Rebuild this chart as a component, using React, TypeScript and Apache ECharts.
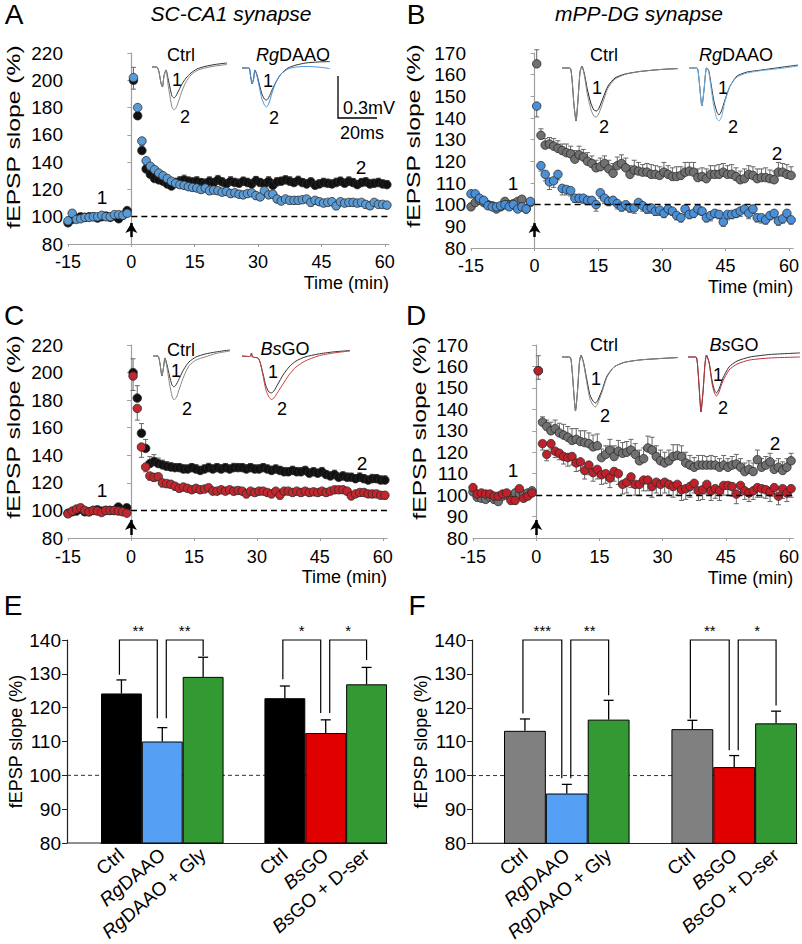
import React, { useEffect, useRef } from "react";
import * as echarts from "echarts";

const FONT = "'Liberation Sans', Arial, Helvetica, sans-serif";

// ---------- time axis (min) ----------
const TIME_BASE = [-15, -14, -13, -12, -11, -10, -9, -8, -7, -6, -5, -4, -3, -2, -1];
const TIME_POST = [0.5, 1.5, 2.5, 3.5, 4.5, 5.5, 6.5, 7.5, 8.5, 9.5, 10.5, 11.5, 12.5, 13.5, 14.5, 15.5, 16.5, 17.5, 18.5, 19.5,
  20.5, 21.5, 22.5, 23.5, 24.5, 25.5, 26.5, 27.5, 28.5, 29.5, 30.5, 31.5, 32.5, 33.5, 34.5, 35.5, 36.5, 37.5, 38.5, 39.5,
  40.5, 41.5, 42.5, 43.5, 44.5, 45.5, 46.5, 47.5, 48.5, 49.5, 50.5, 51.5, 52.5, 53.5, 54.5, 55.5, 56.5, 57.5, 58.5, 59.5, 60.5];
const TIME = [...TIME_BASE, ...TIME_POST];

// ---------- Panel A: SC-CA1, Ctrl vs RgDAAO ----------
const A_CTRL_BASE = [95.5, 98, 99, 100, 99.5, 100, 100, 99, 100, 100.5, 99.5, 100.5, 98.5, 101, 104.5];
const A_CTRL_POST = [200, 174, 148.5, 135, 131, 128, 127, 126, 124, 122.5, 125, 126, 127, 126, 125.5, 126, 125, 124.5, 126, 125,
  127, 125.5, 124, 126, 125, 124.5, 126, 125, 124, 126.5, 125, 124, 126, 123, 125.5, 126, 127, 126, 125, 126.5,
  125, 124, 125.5, 123, 124, 125, 124.5, 124, 125, 126, 124.5, 126, 125, 123.5, 125, 125.5, 124, 124.5, 125, 124, 123.5];
const A_CTRL_ERR_BASE = [1.2, 1, 1, 1.2, 1, 1, 1.1, 1, 1.2, 1, 1, 1.1, 1, 1.2, 1.5];
const A_CTRL_ERR_POST = [9.5, 5, 4.5, 3.5, 3, 3, 3.2, 3, 3, 3, 3.2, 3.5, 3.5, 3.2, 3, 3.4, 3, 3, 3.2, 3,
  3.3, 3, 3, 3.4, 3.2, 3, 3, 3.2, 3.3, 3, 3.1, 3, 3.4, 3, 3.2, 3, 3, 3.3, 3, 3.2,
  3, 3.4, 3, 3, 3.1, 3.2, 3, 3, 3.3, 3, 3, 3.2, 3, 3.1, 3, 3.2, 3.4, 3, 3.2, 3, 3];
const A_RG_BASE = [97, 102.5, 98, 98.5, 99.5, 99.5, 100, 100, 101, 100, 100, 101.5, 101.5, 101, 102.5];
const A_RG_POST = [202, 180, 155.5, 141, 137, 134.5, 132, 130, 128, 126, 124.5, 123.5, 123, 122, 121.5, 121, 120, 121, 119, 119.5,
  119, 118, 118.5, 117, 117.5, 116.5, 116, 117, 117.5, 115.5, 114.5, 119, 116, 116.5, 113, 111.5, 113, 112, 112, 112,
  112.5, 113, 110.5, 112, 111, 110, 110.5, 111, 108, 111, 110, 110.5, 110.5, 110, 110.5, 109, 108, 110.5, 109, 109, 108.5];
const A_RG_ERR_BASE = [1, 1.2, 1, 1, 1.1, 1, 1, 1.2, 1, 1, 1.1, 1, 1, 1.2, 1.3];
const A_RG_ERR_POST = [8.5, 4, 3.5, 3, 3, 2.8, 2.6, 2.5, 2.5, 2.6, 2.4, 2.5, 2.5, 2.6, 2.8, 2.5, 2.6, 2.4, 2.7, 2.5,
  2.6, 2.5, 2.8, 2.6, 2.5, 2.4, 2.6, 2.5, 2.7, 2.6, 2.5, 2.8, 2.6, 2.5, 2.6, 2.4, 2.5, 2.7, 2.5, 2.6,
  2.5, 2.4, 2.6, 2.5, 2.7, 2.5, 2.6, 2.4, 2.8, 2.5, 2.6, 2.5, 2.4, 2.6, 2.5, 2.7, 2.5, 2.6, 2.4, 2.5, 2.6];

// ---------- Panel B: mPP-DG, Ctrl vs RgDAAO ----------
const B_CTRL_BASE = [99, 101, 102, 101, 100, 99.5, 98, 99, 101.5, 100, 100.5, 101.5, 102.5, 98, 101];
const B_CTRL_POST = [165, 132, 127.5, 128, 127, 126, 125, 124, 123.5, 121, 123, 122, 120, 119, 117, 117.5, 119, 116.5, 114.5, 118,
  119, 117, 114, 116, 115.5, 115, 115, 114, 114, 113.5, 115, 114, 113, 113, 113.5, 115, 115.5, 115, 112.5, 113,
  112, 114, 114, 114, 115, 114, 114, 113, 111.5, 112, 114, 113.5, 112, 112.5, 112.5, 112, 111.5, 115, 115, 114, 113.5];
const B_CTRL_ERR_BASE = [1.5, 1.2, 1.5, 1.3, 1.2, 1.4, 1.5, 1.2, 1.3, 1.5, 1.2, 1.4, 1.3, 1.5, 1.4];
const B_CTRL_ERR_POST = [6.5, 3, 3, 3, 3.5, 3.5, 3, 4, 3.5, 4, 4, 3.5, 4, 3.5, 3.5, 4, 3.5, 4, 4.5, 4,
  4, 4.5, 4, 4.5, 4, 3.5, 4, 4.5, 4, 4, 4.5, 4, 4, 4.5, 4, 4.5, 4, 4.5, 4, 4,
  4.5, 4, 4, 4.5, 4, 4, 4.5, 4, 4, 4.5, 4, 4, 4.5, 4, 4.5, 4, 4, 4.5, 4, 4.5, 4];
const B_RG_BASE = [105, 105, 103, 102, 99.5, 99, 99, 99.5, 100, 99, 100, 98, 99, 98, 101.5];
const B_RG_POST = [145.5, 118, 114, 110.5, 111, 114, 107.5, 107, 106.5, 103, 103, 103, 102, 102, 100, 105.5, 103, 101.5, 102, 100.5,
  99, 100, 98.5, 98.5, 101, 99.5, 98, 98.5, 97, 97.5, 96, 98, 97, 95, 94, 98, 95.5, 96, 98, 97,
  94, 95, 96, 95.5, 92, 95.5, 95.5, 96, 97, 98, 96, 98, 94, 94, 93, 95, 96, 92.5, 93.5, 96, 93];
const B_RG_ERR_BASE = [1.2, 1.5, 1.3, 1.2, 1.2, 1, 1.2, 1.2, 1.3, 1.2, 1.1, 1.2, 1.3, 1.2, 1.2];
const B_RG_ERR_POST = [5, 2.5, 3, 3.5, 3, 2.5, 3, 2.5, 2.5, 2, 2, 2.5, 2, 2, 3, 2.5, 2.5, 2, 2, 2.5,
  2, 2.5, 2, 2.5, 2, 2.5, 2, 2.5, 2, 2.5, 2, 2.5, 2, 2, 2, 2.5, 2, 2, 2.5, 2,
  2, 2.5, 2, 2, 2, 2.5, 2, 2, 2.5, 2, 2.5, 2, 2, 2.5, 2, 2, 2.5, 2, 2, 2.5, 2];

// ---------- Panel C: SC-CA1, Ctrl vs BsGO ----------
const C_CTRL_BASE = [98, 99, 99.5, 101, 99, 99, 100, 100.5, 99.5, 100, 100, 100, 102.5, 100, 102];
const C_CTRL_POST = [200, 181.5, 156, 145, 134, 135.5, 134, 133, 132, 131.5, 131, 131, 130, 130, 131, 130, 129, 130, 131, 130,
  131, 130, 131, 130, 131, 131, 131, 130, 131, 130, 130, 131, 130, 129, 130, 129, 128, 128, 129, 128,
  128, 129, 127, 128, 127, 128, 126, 125, 126, 124, 125, 124, 124, 123, 124, 123, 122, 123, 123, 122, 122];
const C_CTRL_ERR_BASE = [1, 1.2, 1, 1, 1.1, 1, 1, 1.2, 1, 1, 1.1, 1, 1.2, 1, 1.2];
const C_CTRL_ERR_POST = [10, 9, 7, 6.5, 5, 5, 4, 3.5, 3.5, 3.2, 3, 3, 3.2, 3, 3, 3.2, 3, 3, 3.2, 3,
  3, 3.2, 3, 3, 3.2, 3, 3, 3.2, 3, 3, 3.2, 3, 3, 3.2, 3, 3, 3.2, 3, 3, 3.2,
  3, 3, 3.2, 3, 3, 3.2, 3, 3, 3.2, 3, 3, 3.2, 3, 3, 3.2, 3, 3, 3.2, 3, 3, 3];
const C_BS_BASE = [97.5, 99.5, 101, 102, 100, 99, 100, 99.5, 98.5, 100, 100, 100, 99.5, 99, 98];
const C_BS_POST = [197.5, 174, 146, 131.5, 125, 124, 124.5, 120, 119.5, 119, 117.5, 116, 117, 116, 115, 116, 115, 115.5, 116.5, 114,
  114, 115, 114, 115, 114, 114.5, 114, 112, 114, 113, 114, 114, 113, 112, 114, 111, 114, 114, 113, 114,
  113, 114, 113, 113.5, 113, 114, 113, 114, 115, 115, 115, 114, 110.5, 112, 113, 113, 112, 112, 112, 111, 111];
const C_BS_ERR_BASE = [1, 1, 1.2, 1, 1, 1.1, 1, 1, 1.2, 1, 1, 1.1, 1, 1, 1.2];
const C_BS_ERR_POST = [10.5, 8.5, 7.5, 3.5, 3, 3, 2.8, 3, 3, 2.8, 2.5, 2.5, 2.8, 2.5, 2.5, 2.8, 2.5, 2.5, 2.8, 2.5,
  2.5, 2.8, 2.5, 2.5, 2.8, 2.5, 2.5, 2.8, 2.5, 2.5, 2.8, 2.5, 2.5, 2.8, 2.5, 2.5, 2.8, 2.5, 2.5, 2.8,
  2.5, 2.5, 2.8, 2.5, 2.5, 2.8, 2.5, 2.5, 2.8, 2.5, 2.5, 2.8, 2.5, 2.5, 2.8, 2.5, 2.5, 2.8, 2.5, 2.5, 2.8];

// ---------- Panel D: mPP-DG, Ctrl vs BsGO ----------
const D_CTRL_BASE = [101.5, 99, 98.5, 98, 99, 98, 97, 99.5, 100, 99, 101, 100, 100.5, 101, 102];
const D_CTRL_POST = [158, 134, 132, 130, 131, 129, 128, 127, 125.5, 126, 125, 124.5, 124, 122.5, 123, 117.5, 119, 121, 118, 120.5,
  119.5, 120, 121, 119, 116, 117, 122, 121, 118, 116, 115, 116, 118, 118.5, 118, 115, 114, 113, 114, 114,
  114, 114, 114, 113, 114, 113, 114, 114.5, 113, 111, 112, 111, 116.5, 113, 114, 115.5, 112, 113, 111.5, 113, 116];
const D_CTRL_ERR_BASE = [1.2, 1, 1.2, 1, 1.2, 1, 1.1, 1.2, 1, 1.2, 1, 1.1, 1.2, 1, 1.2];
const D_CTRL_ERR_POST = [7, 2.5, 3, 4, 4, 4.5, 5, 5, 5.5, 5, 5, 5.5, 5, 5.5, 5.5, 4, 4, 5, 5, 5,
  5, 5, 5, 5, 5, 5, 5.5, 6, 5, 5, 5, 5, 5.5, 5, 5, 5, 4.5, 4.5, 4.5, 4.5,
  4, 4.5, 4, 4, 4.5, 4, 4, 4.5, 4, 4, 4, 4, 4.5, 4, 4, 4, 4, 4, 4, 4, 3.5];
const D_BS_BASE = [103.5, 100.5, 101, 100.5, 100.5, 99.5, 99.5, 100.5, 101, 97.5, 97.5, 103, 98.5, 99.5, 101];
const D_BS_POST = [158, 124, 119, 124, 120.5, 119.5, 118, 117.5, 118, 115, 115.5, 111.5, 114, 110.5, 112, 109.5, 110, 108, 111, 110,
  105, 106, 108.5, 105, 105, 107, 107, 104, 106, 105, 106, 105, 104, 105, 102.5, 103, 104, 105.5, 102, 102.5,
  105, 102, 103, 102, 104.5, 104.5, 104, 100.5, 104.5, 102, 101, 102, 103.5, 103, 102.5, 101.5, 103.5, 99.5, 103, 101, 103];
const D_BS_ERR_BASE = [1.5, 1.2, 1.2, 1.2, 1, 1.2, 1.2, 1, 1.2, 1.2, 1.5, 1.2, 1.2, 1.2, 1.2];
const D_BS_ERR_POST = [4, 3, 3, 2.5, 3, 3, 3.5, 4, 4, 4, 4, 4, 4.5, 4, 4.5, 4.5, 4.5, 4.5, 4.5, 5,
  4.5, 5, 5, 5, 5, 5, 5, 5, 5, 5, 5, 5, 5, 5, 5, 5, 5, 4.5, 4.5, 4.5,
  4.5, 4.5, 4.5, 4.5, 4.5, 4.5, 4.5, 4.5, 4.5, 4, 4, 4, 4.5, 4, 4, 4.5, 4, 4, 4.5, 4, 4];

// tetanus arrows (value range along y at t = 0)
const A_ARROW = [85.1, 95.4];
const B_ARROW = [85.1, 91.5];
const C_ARROW = [82.2, 93.1];
const D_ARROW = [81.4, 88.4];

// ---------- inset traces (t in ms, V in mV) ----------
const A_CTRL_TR_T = [0, 2.6, 3.7, 4.7, 5.5, 6.3, 7.4, 8.4, 9.5, 10.5, 11.6, 12.6, 14.2, 15.8, 17.9, 20.5, 23.7, 27.9, 33.2, 39.5];
const A_CTRL_TR1 = [0, 0, -0.036, -0.114, -0.143, -0.064, -0.021, -0.079, -0.15, -0.207, -0.221, -0.207, -0.164, -0.121, -0.079, -0.043, -0.014, 0.004, 0.018, 0.029];
const A_CTRL_TR2 = [0, 0, -0.036, -0.114, -0.143, -0.064, -0.021, -0.121, -0.214, -0.286, -0.307, -0.293, -0.236, -0.171, -0.107, -0.057, -0.025, -0.007, 0.007, 0.018];
const A_RG_TR_T = [0, 3.7, 4.5, 5.3, 6.1, 6.8, 7.9, 9.2, 10.5, 11.8, 12.9, 14.2, 15.8, 17.9, 20.5, 24.2, 28.4, 33.7, 40, 46.3];
const A_RG_TR1 = [0, 0, -0.057, -0.114, -0.079, -0.014, -0.05, -0.121, -0.186, -0.221, -0.229, -0.207, -0.157, -0.1, -0.043, 0, 0.021, 0.036, 0.043, 0.046];
const A_RG_TR2 = [0, 0, -0.057, -0.114, -0.079, -0.014, -0.057, -0.143, -0.221, -0.264, -0.279, -0.25, -0.179, -0.1, -0.043, -0.007, 0.007, 0.011, 0.007, -0.004];
const B_CTRL_TR_T = [0, 4.2, 5.3, 6.3, 7.4, 8.4, 9.5, 10.5, 11.8, 13.4, 15.3, 16.8, 18.2, 19.5, 21.6, 24.2, 27.9, 33.2, 41, 51.6, 61];
const B_CTRL_TR1 = [0, 0, -0.086, -0.264, -0.379, -0.229, -0.029, 0.014, -0.043, -0.157, -0.257, -0.3, -0.307, -0.286, -0.214, -0.129, -0.071, -0.043, -0.025, -0.011, -0.004];
const B_CTRL_TR2 = [0, 0, -0.086, -0.264, -0.379, -0.229, -0.029, 0.014, -0.057, -0.193, -0.3, -0.343, -0.35, -0.321, -0.243, -0.143, -0.079, -0.046, -0.025, -0.011, -0.004];
const B_RG_TR_T = [0, 4.2, 5.3, 6.3, 6.8, 7.9, 9.2, 10.3, 11.6, 13.2, 14.7, 15.8, 17.1, 18.9, 21.6, 25.3, 30.5, 38.4, 47.9, 57.4];
const B_RG_TR1 = [0, 0, -0.086, -0.229, -0.271, -0.157, 0, -0.014, -0.114, -0.243, -0.314, -0.336, -0.307, -0.229, -0.129, -0.057, -0.029, -0.014, 0.004, 0.021];
const B_RG_TR2 = [0, 0, -0.086, -0.229, -0.271, -0.157, 0, -0.021, -0.143, -0.286, -0.364, -0.379, -0.35, -0.243, -0.129, -0.064, -0.036, -0.018, -0.004, 0.014];
const C_CTRL_TR_T = [0, 2.6, 3.7, 4.7, 5.5, 6.3, 7.4, 8.7, 10, 11.1, 12.4, 14.2, 16.3, 18.9, 22.6, 27.4, 33.2, 40.5];
const C_CTRL_TR1 = [0, 0, -0.057, -0.143, -0.086, -0.014, -0.064, -0.143, -0.207, -0.221, -0.2, -0.15, -0.093, -0.043, -0.007, 0.014, 0.029, 0.043];
const C_CTRL_TR2 = [0, 0, -0.057, -0.143, -0.086, -0.014, -0.086, -0.2, -0.286, -0.314, -0.293, -0.221, -0.143, -0.071, -0.029, -0.007, 0.018, 0.036];
const C_BS_TR_T = [0, 4.2, 5, 5.5, 8.4, 9.5, 11.1, 12.6, 14.2, 15.5, 16.8, 18.9, 21.6, 24.7, 28.4, 33.2, 40, 47.9, 56.8];
const C_BS_TR1 = [0, -0.004, 0.021, -0.007, -0.014, -0.043, -0.129, -0.214, -0.257, -0.264, -0.25, -0.2, -0.136, -0.079, -0.036, -0.007, 0.014, 0.029, 0.039];
const C_BS_TR2 = [0, -0.004, 0.021, -0.007, -0.014, -0.043, -0.143, -0.243, -0.293, -0.311, -0.3, -0.257, -0.2, -0.136, -0.079, -0.036, 0, 0.021, 0.036];
const D_CTRL_TR_T = [0, 4.2, 5.3, 6.3, 7.1, 8.2, 9.2, 10, 11.3, 12.9, 14.7, 16.3, 17.6, 18.9, 21.1, 23.7, 27.4, 32.6, 41, 51.6, 61];
const D_CTRL_TR1 = [0, 0, -0.093, -0.271, -0.386, -0.236, -0.036, 0.014, -0.036, -0.15, -0.271, -0.314, -0.329, -0.307, -0.236, -0.136, -0.071, -0.039, -0.021, -0.011, -0.004];
const D_CTRL_TR2 = [0, 0, -0.093, -0.271, -0.386, -0.236, -0.036, 0.014, -0.043, -0.171, -0.3, -0.343, -0.357, -0.329, -0.25, -0.143, -0.071, -0.039, -0.021, -0.011, -0.004];
const D_BS_TR_T = [0, 4.2, 5.3, 6.3, 6.8, 7.9, 8.9, 9.7, 11.1, 12.6, 13.9, 15, 16.3, 18.4, 21.6, 25.8, 32.6, 43.2, 58.9];
const D_BS_TR1 = [0, 0, -0.107, -0.307, -0.393, -0.25, -0.057, 0.014, -0.036, -0.164, -0.236, -0.257, -0.229, -0.15, -0.071, -0.029, 0, 0.018, 0.029];
const D_BS_TR2 = [0, 0, -0.107, -0.307, -0.393, -0.25, -0.057, 0.014, -0.043, -0.186, -0.257, -0.279, -0.25, -0.171, -0.093, -0.05, -0.021, -0.007, 0];

// ---------- Panels E / F: bars ----------
const BAR_CATS = ["Ctrl", "RgDAAO", "RgDAAO + Gly", "", "Ctrl", "BsGO", "BsGO + D-ser"];
const E_VALUES = [124.2, 110.0, 129.1, null, 122.8, 112.5, 126.9];
const E_SEM = [4.0, 4.1, 5.8, null, 3.6, 3.9, 5.0];
const F_VALUES = [113.2, 94.7, 116.5, null, 113.7, 102.5, 115.4];
const F_SEM = [3.5, 2.7, 5.7, null, 2.6, 3.4, 3.6];
const E_COLORS = ["#000000", "#559ff5", "#339933", null, "#000000", "#e00000", "#339933"];
const F_COLORS = ["#808080", "#559ff5", "#339933", null, "#808080", "#e00000", "#339933"];
// brackets: [left bar, right bar, left foot value, right foot value]
const BRACKET_TOP = 140;
const E_BRACKETS = [[0, 1, 129.7, 116.9], [1, 2, 116.9, 135.3], [4, 5, 128.4, 118.4], [5, 6, 118.4, 134.1]];
const E_STARS = ["**", "**", "*", "*"];
const F_BRACKETS = [[0, 1, 118.3, 99.2], [1, 2, 99.2, 123.7], [4, 5, 116.8, 107.5], [5, 6, 107.5, 120.7]];
const F_STARS = ["***", "**", "**", "*"];

// ---------- layout ----------
const TIME_PANELS: any[] = [
  { grid: { left: 68, top: 53, width: 321, height: 191 }, yMin: 80, yMax: 220, yInt: 20, yName: [14, 137], labelMargin: 9, namePad: 30,
    ctrl: [...A_CTRL_BASE, ...A_CTRL_POST], ctrlErr: [...A_CTRL_ERR_BASE, ...A_CTRL_ERR_POST], ctrlColor: "#111111",
    trt: [...A_RG_BASE, ...A_RG_POST], trtErr: [...A_RG_ERR_BASE, ...A_RG_ERR_POST], trtColor: "#5b9bd5", arrow: A_ARROW },
  { grid: { left: 471, top: 53, width: 326, height: 195 }, yMin: 80, yMax: 170, yInt: 10, yName: [414, 136], labelMargin: 9, namePad: 30,
    ctrl: [...B_CTRL_BASE, ...B_CTRL_POST], ctrlErr: [...B_CTRL_ERR_BASE, ...B_CTRL_ERR_POST], ctrlColor: "#707070",
    trt: [...B_RG_BASE, ...B_RG_POST], trtErr: [...B_RG_ERR_BASE, ...B_RG_ERR_POST], trtColor: "#4a90d9", arrow: B_ARROW },
  { grid: { left: 68, top: 345, width: 319, height: 193 }, yMin: 80, yMax: 220, yInt: 20, yName: [14, 427], labelMargin: 10, namePad: 30,
    ctrl: [...C_CTRL_BASE, ...C_CTRL_POST], ctrlErr: [...C_CTRL_ERR_BASE, ...C_CTRL_ERR_POST], ctrlColor: "#111111",
    trt: [...C_BS_BASE, ...C_BS_POST], trtErr: [...C_BS_ERR_BASE, ...C_BS_ERR_POST], trtColor: "#c4262e", arrow: C_ARROW },
  { grid: { left: 473, top: 345, width: 324, height: 193 }, yMin: 80, yMax: 170, yInt: 10, yName: [420, 428], labelMargin: 10, namePad: 31,
    ctrl: [...D_CTRL_BASE, ...D_CTRL_POST], ctrlErr: [...D_CTRL_ERR_BASE, ...D_CTRL_ERR_POST], ctrlColor: "#707070",
    trt: [...D_BS_BASE, ...D_BS_POST], trtErr: [...D_BS_ERR_BASE, ...D_BS_ERR_POST], trtColor: "#c0202a", arrow: D_ARROW },
];

const BAR_PANELS: any[] = [
  { grid: { left: 101, top: 640, width: 286, height: 203 }, axisX: 67, values: E_VALUES, sem: E_SEM, colors: E_COLORS, brackets: E_BRACKETS, stars: E_STARS, nameGap: 37 },
  { grid: { left: 504, top: 640, width: 293, height: 204 }, axisX: 472, values: F_VALUES, sem: F_SEM, colors: F_COLORS, brackets: F_BRACKETS, stars: F_STARS, nameGap: 36 },
];

const PX_PER_MS = 1.9;
const PX_PER_MV = 140;
const INSET_V = [-0.42, 0.1];
const INSETS: any[] = [
  { left: 152, base: 67, xMax: 40, t: A_CTRL_TR_T, tr1: A_CTRL_TR1, tr2: A_CTRL_TR2, c1: "#333333", c2: "#888888" },
  { left: 242, base: 68, xMax: 48, t: A_RG_TR_T, tr1: A_RG_TR1, tr2: A_RG_TR2, c1: "#333333", c2: "#4a90d9" },
  { left: 562, base: 68, xMax: 62, t: B_CTRL_TR_T, tr1: B_CTRL_TR1, tr2: B_CTRL_TR2, c1: "#222222", c2: "#888888" },
  { left: 689, base: 68, xMax: 58, t: B_RG_TR_T, tr1: B_RG_TR1, tr2: B_RG_TR2, c1: "#333333", c2: "#6aaee0" },
  { left: 153, base: 356, xMax: 41, t: C_CTRL_TR_T, tr1: C_CTRL_TR1, tr2: C_CTRL_TR2, c1: "#333333", c2: "#888888" },
  { left: 242, base: 356, xMax: 58, t: C_BS_TR_T, tr1: C_BS_TR1, tr2: C_BS_TR2, c1: "#333333", c2: "#d04040" },
  { left: 562, base: 357, xMax: 62, t: D_CTRL_TR_T, tr1: D_CTRL_TR1, tr2: D_CTRL_TR2, c1: "#222222", c2: "#888888" },
  { left: 688, base: 357, xMax: 60, t: D_BS_TR_T, tr1: D_BS_TR1, tr2: D_BS_TR2, c1: "#333333", c2: "#c0303a" },
];

const txt = (text: string, x: number, y: number, size: number, extra: any = {}, el: any = {}) => ({
  type: "text", x, y, silent: true, ...el,
  style: { text, fontSize: size, fontFamily: FONT, fill: "#000", align: "center", verticalAlign: "middle", ...extra },
});
const richTxt = (text: string, x: number, y: number, size: number) =>
  txt(text, x, y, size, { rich: { i: { fontStyle: "italic", fontSize: size, fontFamily: FONT, fill: "#000" } } });

function buildOption() {
  const grid: any[] = [];
  const xAxis: any[] = [];
  const yAxis: any[] = [];
  const series: any[] = [];

  TIME_PANELS.forEach((p, k) => {
    grid.push({ ...p.grid, containLabel: false });
    xAxis.push({
      gridIndex: k, type: "value", min: -15, max: 61, interval: 15,
      axisLine: { show: true, onZero: false, lineStyle: { color: "#a0a0a0", width: 1.2 } },
      axisTick: { show: true, length: 3, lineStyle: { color: "#a0a0a0" } },
      splitLine: { show: false },
      axisLabel: { fontSize: 18, color: "#000", fontFamily: FONT, margin: p.labelMargin, showMaxLabel: false },
      name: "Time (min)", nameLocation: "end", nameGap: 0,
      nameTextStyle: { fontSize: 18, fontFamily: FONT, color: "#000", align: "right", verticalAlign: "top", padding: [p.namePad, 0, 0, 0] },
    });
    yAxis.push({
      gridIndex: k, type: "value", min: p.yMin, max: p.yMax, interval: p.yInt,
      axisLine: { show: true, lineStyle: { color: "#a0a0a0", width: 1.2 } },
      axisTick: { show: true, length: 4, lineStyle: { color: "#a0a0a0" } },
      splitLine: { show: false },
      axisLabel: { fontSize: 19, color: "#000", fontFamily: FONT, margin: 5 },
    });
    const errSeries = (vals: number[], errs: number[], dir: number) => ({
      type: "custom", xAxisIndex: k, yAxisIndex: k, z: 2, silent: true, clip: false,
      data: TIME.map((t, i) => [t, vals[i], errs[i]]),
      encode: { x: 0, y: 1 },
      renderItem: (params: any, api: any) => {
        const t = api.value(0), v = api.value(1), e = api.value(2);
        const a = api.coord([t, v]);
        const b = api.coord([t, v + dir * e]);
        return {
          type: "group", children: [
            { type: "line", shape: { x1: a[0], y1: a[1], x2: b[0], y2: b[1] }, style: { stroke: "#666", lineWidth: 1 } },
            { type: "line", shape: { x1: b[0] - 2.5, y1: b[1], x2: b[0] + 2.5, y2: b[1] }, style: { stroke: "#666", lineWidth: 1 } },
          ],
        };
      },
    });
    series.push(errSeries(p.ctrl, p.ctrlErr, 1));
    series.push(errSeries(p.trt, p.trtErr, -1));
    series.push({
      type: "scatter", xAxisIndex: k, yAxisIndex: k, z: 3, silent: true, symbol: "circle", symbolSize: 8.5,
      itemStyle: { color: p.ctrlColor, borderColor: "#2a2a2a", borderWidth: 0.8, opacity: 1 },
      data: TIME.map((t, i) => [t, p.ctrl[i]]),
      markLine: {
        silent: true, symbol: ["none", "none"], label: { show: false }, animation: false,
        data: [
          [{ coord: [0, 100], lineStyle: { type: [6, 4], color: "#000", width: 1.3 } }, { coord: [61, 100] }],
          [{ coord: [0, p.arrow[0]], symbol: "none", lineStyle: { type: "solid", color: "#000", width: 2.5 } },
           { coord: [0, p.arrow[1]], symbol: "arrow", symbolSize: [9, 10] }],
        ],
      },
    });
    series.push({
      type: "scatter", xAxisIndex: k, yAxisIndex: k, z: 4, silent: true, symbol: "circle", symbolSize: 8.5,
      itemStyle: { color: p.trtColor, borderColor: "#2a2a2a", borderWidth: 0.8, opacity: 1 },
      data: TIME.map((t, i) => [t, p.trt[i]]),
    });
  });

  BAR_PANELS.forEach((p, j) => {
    const k = 4 + j;
    grid.push({ ...p.grid, containLabel: false });
    xAxis.push({
      gridIndex: k, type: "category", data: BAR_CATS,
      axisLine: { show: true, lineStyle: { color: "#222", width: 1.2 } },
      axisTick: { show: false },
      axisLabel: {
        interval: 0, rotate: 40, fontSize: 19, fontFamily: FONT, color: "#000", margin: 9,
        formatter: (v: string) => v.replace(/^(Rg|Bs)/, "{i|$1}"),
        rich: { i: { fontStyle: "italic", fontSize: 19, fontFamily: FONT, color: "#000" } },
      },
    });
    yAxis.push({
      gridIndex: k, type: "value", min: 80, max: 140, interval: 10, offset: p.grid.left - p.axisX,
      axisLine: { show: true, lineStyle: { color: "#222", width: 1.2 } },
      axisTick: { show: true, length: 5, lineStyle: { color: "#222" } },
      splitLine: { show: false },
      axisLabel: { fontSize: 19, color: "#000", fontFamily: FONT, margin: 6 },
      name: "fEPSP slope (%)", nameLocation: "middle", nameGap: p.nameGap,
      nameTextStyle: { fontSize: 18, fontFamily: FONT, color: "#000" },
    });
    series.push({
      type: "bar", xAxisIndex: k, yAxisIndex: k, z: 2, silent: true, barWidth: "100%",
      itemStyle: { borderColor: "#000", borderWidth: 1 },
      data: p.values.map((v: number | null, i: number) => (v == null ? "-" : { value: v, itemStyle: { color: p.colors[i] } })),
    });
    series.push({
      type: "custom", xAxisIndex: k, yAxisIndex: k, z: 3, silent: true, clip: false,
      data: p.values.map((v: number | null, i: number) => (v == null ? null : [i, v, p.sem[i]])).filter((d: any) => d),
      encode: { x: 0, y: 1 },
      renderItem: (params: any, api: any) => {
        const i = api.value(0), v = api.value(1), s = api.value(2);
        const a = api.coord([i, v]);
        const b = api.coord([i, v + s]);
        return {
          type: "group", children: [
            { type: "line", shape: { x1: a[0], y1: a[1], x2: b[0], y2: b[1] }, style: { stroke: "#000", lineWidth: 1.3 } },
            { type: "line", shape: { x1: b[0] - 5, y1: b[1], x2: b[0] + 5, y2: b[1] }, style: { stroke: "#000", lineWidth: 1.3 } },
          ],
        };
      },
    });
    series.push({
      type: "custom", xAxisIndex: k, yAxisIndex: k, z: 4, silent: true, clip: false,
      data: p.brackets.map((b: number[]) => [b[0], b[2], b[1], b[3]]),
      encode: { x: 0, y: 1 },
      renderItem: (params: any, api: any) => {
        const n = params.dataIndex;
        const first = n % 2 === 0;
        const i1 = api.value(0), y1 = api.value(1), i2 = api.value(2), y2 = api.value(3);
        const a = api.coord([i1, y1]);
        const b = api.coord([i2, y2]);
        const top = api.coord([i1, BRACKET_TOP])[1];
        const xa = a[0] + (first ? -2 : 4);
        const xb = b[0] + (first ? -5 : 0);
        return {
          type: "group", children: [
            { type: "polyline", shape: { points: [[xa, a[1]], [xa, top], [xb, top], [xb, b[1]]] }, style: { stroke: "#000", lineWidth: 1.2, fill: "none" } },
            { type: "text", x: (xa + xb) / 2, y: top - 10, style: { text: p.stars[n], fontSize: 15, fontFamily: FONT, fill: "#000", align: "center", verticalAlign: "middle" } },
          ],
        };
      },
    });
  });

  INSETS.forEach((s, j) => {
    const k = 6 + j;
    grid.push({
      left: s.left, top: s.base - INSET_V[1] * PX_PER_MV, width: s.xMax * PX_PER_MS,
      height: (INSET_V[1] - INSET_V[0]) * PX_PER_MV, containLabel: false,
    });
    xAxis.push({ gridIndex: k, type: "value", min: 0, max: s.xMax, show: false, splitLine: { show: false } });
    yAxis.push({ gridIndex: k, type: "value", min: INSET_V[0], max: INSET_V[1], show: false, splitLine: { show: false } });
    series.push({
      type: "line", xAxisIndex: k, yAxisIndex: k, silent: true, showSymbol: false, symbol: "none", smooth: 0.2, z: 5,
      lineStyle: { color: s.c1, width: 1 }, data: s.t.map((t: number, i: number) => [t, s.tr1[i]]),
    });
    series.push({
      type: "line", xAxisIndex: k, yAxisIndex: k, silent: true, showSymbol: false, symbol: "none", smooth: 0.2, z: 6,
      lineStyle: { color: s.c2, width: 1 }, data: s.t.map((t: number, i: number) => [t, s.tr2[i]]),
    });
  });

  return { animation: false, backgroundColor: "#ffffff", grid, xAxis, yAxis, series };
}

function buildGraphics(chart: any) {
  const els: any[] = [];
  // panel letters and titles
  els.push(txt("A", 14, 14, 28), txt("B", 416, 14, 28), txt("C", 14, 315, 28), txt("D", 416, 315, 28), txt("E", 13, 605, 28), txt("F", 417, 605, 28));
  els.push(txt("SC-CA1 synapse", 231, 13, 21, { fontStyle: "italic" }), txt("mPP-DG synapse", 639, 13, 21, { fontStyle: "italic" }));
  // y-axis titles of the time-course panels (taller lettering than the bar panels)
  TIME_PANELS.forEach((p) => els.push(txt("fEPSP slope (%)", p.yName[0], p.yName[1], 19, {}, { rotation: Math.PI / 2, scaleX: 1.3 })));
  // inset names
  els.push(txt("Ctrl", 181, 55, 18), richTxt("{i|Rg}DAAO", 293, 55, 18));
  els.push(txt("Ctrl", 604, 55, 18), richTxt("{i|Rg}DAAO", 736, 55, 18));
  els.push(txt("Ctrl", 181, 350, 18), richTxt("{i|Bs}GO", 285, 349, 18));
  els.push(txt("Ctrl", 604, 345, 18), richTxt("{i|Bs}GO", 734, 345, 18));
  // inset trace numbers
  const nums: [string, number, number][] = [
    ["1", 177, 80], ["2", 185, 117], ["1", 268, 81], ["2", 274, 118],
    ["1", 597, 88], ["2", 604, 127], ["1", 723, 88], ["2", 733, 127],
    ["1", 176, 371], ["2", 187, 409], ["1", 273, 372], ["2", 282, 409],
    ["1", 596, 379], ["2", 605, 416], ["1", 718, 375], ["2", 723, 408],
  ];
  nums.forEach(([s, x, y]) => els.push(txt(s, x, y, 18)));
  // time-course period labels
  const per: [string, number, number][] = [
    ["1", 102, 197], ["2", 361, 167], ["1", 513, 183], ["2", 777, 153],
    ["1", 102, 490], ["2", 362, 463], ["1", 513, 470], ["2", 775, 443],
  ];
  per.forEach(([s, x, y]) => els.push(txt(s, x, y, 19)));
  // scale bar
  els.push({ type: "polyline", silent: true, shape: { points: [[338, 76], [338, 118], [377, 118]] }, style: { stroke: "#000", lineWidth: 1.3, fill: "none" } });
  els.push(txt("0.3mV", 343, 108, 18, { align: "left" }), txt("20ms", 362, 133, 18));
  // bar panels: dashed 100 % line and axis extension to the offset y-axis
  BAR_PANELS.forEach((p, j) => {
    const k = 4 + j;
    const y100 = chart.convertToPixel({ yAxisIndex: k }, 100);
    const y80 = chart.convertToPixel({ yAxisIndex: k }, 80);
    const right = p.grid.left + p.grid.width;
    els.push({ type: "line", silent: true, z: 0, shape: { x1: p.axisX, y1: y100, x2: right, y2: y100 }, style: { stroke: "#333", lineWidth: 1, lineDash: [4, 3] } });
    els.push({ type: "line", silent: true, z: 0, shape: { x1: p.axisX, y1: y80, x2: p.grid.left, y2: y80 }, style: { stroke: "#222", lineWidth: 1.2 } });
  });
  return els;
}

export default function App() {
  const ref = useRef<HTMLDivElement>(null);
  useEffect(() => {
    document.body.style.margin = "0";
    const chart = echarts.init(ref.current as HTMLDivElement, undefined, { renderer: "svg", width: 802, height: 944 });
    chart.setOption(buildOption() as any);
    chart.setOption({ graphic: { elements: buildGraphics(chart) } } as any);
    return () => chart.dispose();
  }, []);
  return <div ref={ref} style={{ width: 802, height: 944, background: "#fff" }} />;
}
